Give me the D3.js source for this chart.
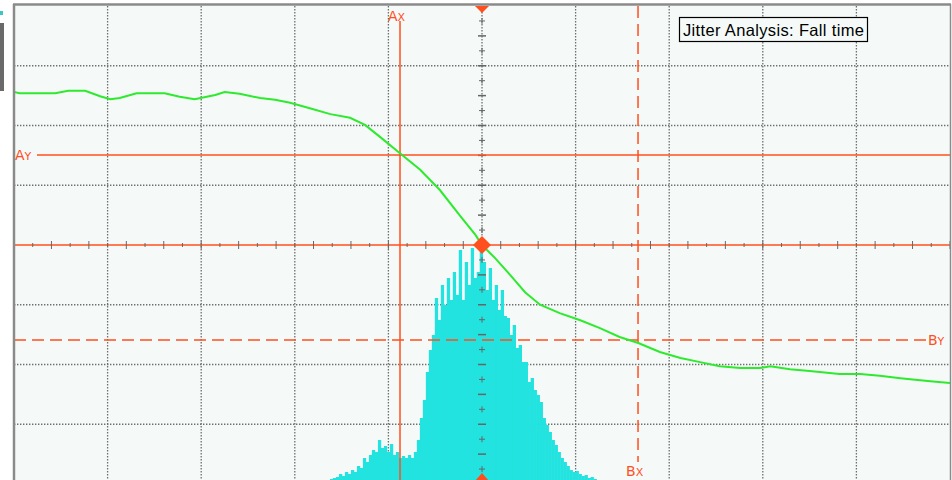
<!DOCTYPE html>
<html>
<head>
<meta charset="utf-8">
<script src="https://cdn.jsdelivr.net/npm/d3@7"></script>
<style>
  body { margin: 0; background: #fff; }
  svg { display: block; }
</style>
</head>
<body>
<svg id="scope" width="952" height="480"></svg>
<script>
// waveform (time in divisions, voltage in divisions)
var traceT = [-5.0, -4.94, -4.56, -4.42, -4.24, -4.08, -3.97, -3.87, -3.69, -3.39, -3.23, -3.07, -2.85, -2.75, -2.59,
  -2.37, -2.21, -2.05, -1.84, -1.62, -1.41, -1.25, -1.09, -0.88, -0.66, -0.45, -0.24, -0.07, 0, 0.14, 0.30, 0.46,
  0.62, 0.83, 1.05, 1.26, 1.47, 1.67, 1.90, 2.12, 2.33, 2.54, 2.76, 2.97, 3.08, 3.29, 3.50, 3.82, 4.04, 4.25, 4.47, 4.79, 5.0];
var traceV = [2.56, 2.54, 2.54, 2.58, 2.58, 2.49, 2.44, 2.46, 2.54, 2.54, 2.48, 2.44, 2.51, 2.56, 2.53,
  2.46, 2.43, 2.38, 2.29, 2.19, 2.13, 2.01, 1.81, 1.54, 1.26, 0.92, 0.50, 0.17, 0, -0.22, -0.50, -0.79,
  -1.00, -1.14, -1.26, -1.39, -1.54, -1.64, -1.79, -1.89, -1.96, -2.03, -2.06, -2.06, -2.03, -2.08, -2.11, -2.16, -2.16, -2.19, -2.23, -2.28, -2.31];

// jitter histogram
var histStart = -1.624;
var histBinWidth = 0.032;
var histCounts = [5, 6, 7, 10, 8, 12, 10, 14, 12, 18, 16, 26, 22, 29, 34, 32, 44, 36, 38, 32, 40, 29, 32, 26, 28, 26, 29, 26, 32, 44,
  66, 84, 112, 134, 149, 186, 164, 199, 179, 206, 184, 212, 189, 234, 184, 222, 199, 236, 206, 212, 234, 222, 194, 216, 184, 199, 174, 194, 168, 166,
  149, 159, 136, 139, 122, 122, 102, 106, 94, 89, 82, 66, 59, 52, 44, 39, 32, 26, 22, 18, 14, 12, 13, 10, 8, 9, 6, 7, 5, 4];

// cursors
var cursorAx = -0.876, cursorBx = 1.667;
var cursorAy = 1.506, cursorBy = -1.59;
var title = "Jitter Analysis: Fall time";

var orange = "#ff4f1e";

var svg = d3.select("#scope");
var L = 14, R = 950, T = 6, B = 484;

var x = d3.scaleLinear().domain([-5, 5]).range([L, R]);
var y = d3.scaleLinear().domain([-4, 4]).range([B, T]);
var yHist = d3.scaleLinear().domain([0, 478]).range([B, T]);

// window bits on the far left
svg.append("rect").attr("x", 0).attr("y", 23).attr("width", 4).attr("height", 68).attr("fill", "#6a6a6a");
svg.append("rect").attr("x", 0).attr("y", 11).attr("width", 3).attr("height", 4).attr("fill", "#3cc6c8");

svg.append("rect").attr("x", L).attr("y", T).attr("width", R - L).attr("height", B - T).attr("fill", "#f5faf8");

svg.append("defs").append("clipPath").attr("id", "plotclip")
  .append("rect").attr("x", L).attr("y", T).attr("width", R - L).attr("height", B - T);
var canvas = svg.append("g").attr("clip-path", "url(#plotclip)");

// graticule
var grid = canvas.append("g").attr("stroke", "#6e6e6e").attr("stroke-width", 1.3).attr("stroke-dasharray", "1.4,1.6");
d3.range(-4, 5).forEach(function(d) {
  if (d === 0) return;
  grid.append("line").attr("x1", x(d)).attr("x2", x(d)).attr("y1", T).attr("y2", B);
});
d3.range(-3, 4).forEach(function(d) {
  if (d === 0) return;
  grid.append("line").attr("x1", L).attr("x2", R).attr("y1", y(d)).attr("y2", y(d));
});
grid.append("line").attr("x1", x(0)).attr("x2", x(0)).attr("y1", T).attr("y2", B);

// histogram
canvas.append("g").selectAll("rect")
  .data(histCounts)
  .enter().append("rect")
  .attr("x", function(d, i) { return x(histStart + i * histBinWidth); })
  .attr("width", x(histBinWidth) - x(0) + 0.3)
  .attr("y", function(d) { return yHist(d); })
  .attr("height", function(d) { return yHist(0) - yHist(d); })
  .attr("fill", "#22e3df");

// centre horizontal line (orange) with ticks
canvas.append("line").attr("x1", L).attr("x2", R).attr("y1", y(0)).attr("y2", y(0))
  .attr("stroke", orange).attr("stroke-width", 1.5);
var ticks = canvas.append("g").attr("stroke", "#666").attr("stroke-width", 1);
d3.range(-5, 5.01, 0.2).forEach(function(d) {
  var big = Math.abs(Math.round(d * 5)) % 2 === 1;
  ticks.append("line").attr("x1", x(d)).attr("x2", x(d))
    .attr("y1", y(0) - (big ? 4 : 2)).attr("y2", y(0) + (big ? 4 : 2));
});
d3.range(-4, 4.01, 0.25).forEach(function(d) {
  var big = Math.abs(Math.round(d * 4)) % 2 === 1;
  ticks.append("line").attr("x1", x(0) - (big ? 3 : 4)).attr("x2", x(0) + (big ? 3 : 4))
    .attr("y1", y(d)).attr("y2", y(d)).attr("stroke-width", big ? 1 : 1.5);
  if (big) ticks.append("line").attr("x1", x(0)).attr("x2", x(0)).attr("y1", y(d) - 3).attr("y2", y(d) + 3);
});

// cursors
canvas.append("line").attr("x1", x(cursorAx)).attr("x2", x(cursorAx)).attr("y1", 21).attr("y2", B)
  .attr("stroke", orange).attr("stroke-width", 1.5);
canvas.append("line").attr("x1", 37).attr("x2", R).attr("y1", y(cursorAy)).attr("y2", y(cursorAy))
  .attr("stroke", orange).attr("stroke-width", 1.5);
canvas.append("line").attr("x1", x(cursorBx)).attr("x2", x(cursorBx)).attr("y1", T).attr("y2", 462)
  .attr("stroke", orange).attr("stroke-width", 1.5).attr("stroke-dasharray", "12,6");
canvas.append("line").attr("x1", L).attr("x2", 927).attr("y1", y(cursorBy)).attr("y2", y(cursorBy))
  .attr("stroke", orange).attr("stroke-width", 1.5).attr("stroke-dasharray", "12,6");

function cursorLabel(px, py, big, small) {
  var t = svg.append("text").attr("x", px).attr("y", py)
    .attr("font-family", "DejaVu Sans, sans-serif").attr("fill", orange).attr("font-size", 14);
  t.append("tspan").text(big);
  t.append("tspan").attr("font-size", 11).text(small);
}
cursorLabel(x(cursorAx) - 12, 21, "A", "X");
cursorLabel(15, y(cursorAy) + 5, "A", "Y");
cursorLabel(928, y(cursorBy) + 5, "B", "Y");
cursorLabel(x(cursorBx) - 12, 476, "B", "X");

// waveform
var traceData = traceT.map(function(t, i) { return [t, traceV[i]]; });
canvas.append("path")
  .datum(traceData)
  .attr("fill", "none")
  .attr("stroke", "#2eea2e")
  .attr("stroke-width", 2)
  .attr("d", d3.line().x(function(d) { return x(d[0]); }).y(function(d) { return y(d[1]); }));

// trigger markers
var cx = x(0), cy = y(0);
canvas.append("path").attr("d", `M${cx},${cy - 9}L${cx + 9},${cy}L${cx},${cy + 9}L${cx - 9},${cy}Z`).attr("fill", orange);
svg.append("path").attr("d", `M${cx - 7},${T}L${cx + 7},${T}L${cx},${T + 7}Z`).attr("fill", orange);
canvas.append("path").attr("d", `M${cx - 7},${B - 3}L${cx + 7},${B - 3}L${cx},${B - 11}Z`).attr("fill", orange);

// frame
svg.append("line").attr("x1", L - 1).attr("x2", R + 1).attr("y1", 4.5).attr("y2", 4.5).attr("stroke", "#8a8a8a").attr("stroke-width", 2.5);
svg.append("line").attr("x1", L).attr("x2", L).attr("y1", 4).attr("y2", 480).attr("stroke", "#8a8a8a").attr("stroke-width", 2.5);
svg.append("line").attr("x1", R + 0.5).attr("x2", R + 0.5).attr("y1", 4).attr("y2", 480).attr("stroke", "#8a8a8a").attr("stroke-width", 1.5);

// title box
var tb = svg.append("g");
tb.append("rect").attr("x", 679.5).attr("y", 17.5).attr("width", 188).attr("height", 24)
  .attr("fill", "#f5faf8").attr("stroke", "#000").attr("stroke-width", 1.2);
tb.append("text").attr("x", 683).attr("y", 36)
  .attr("font-family", "Liberation Sans, Arial, sans-serif").attr("font-size", 16.5)
  .attr("textLength", 181).attr("fill", "#000").text(title);
</script>
</body>
</html>
